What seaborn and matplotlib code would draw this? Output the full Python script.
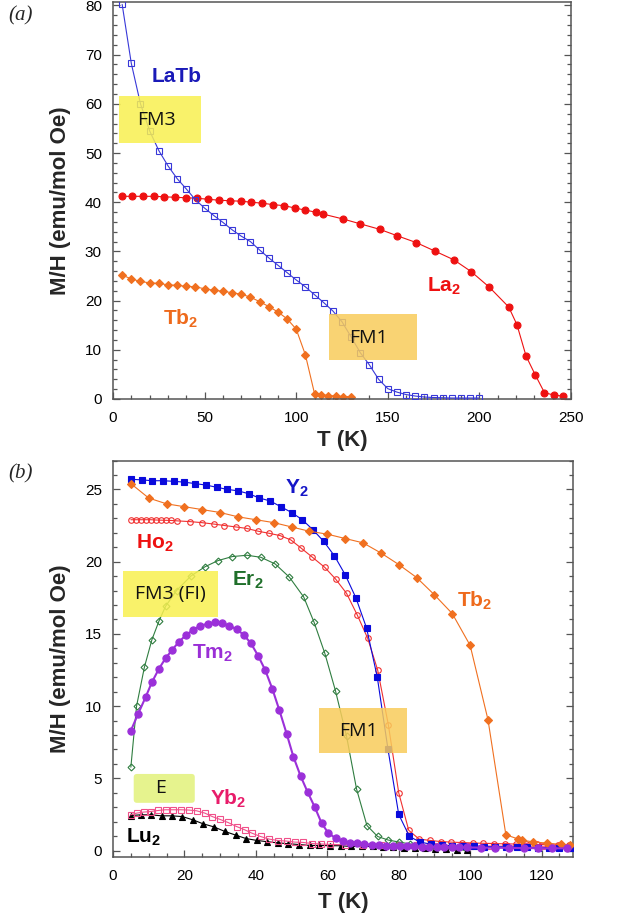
import numpy as np
import pandas as pd
import matplotlib
matplotlib.use("Agg")
import matplotlib.pyplot as plt
import seaborn as sns
from matplotlib.patches import Rectangle, FancyBboxPatch
from matplotlib.ticker import MultipleLocator

# ---------------- panel (a) data ----------------
LaTb_T = [5, 10, 15, 20, 25, 30, 35, 40, 45, 50, 55, 60, 65, 70, 75, 80, 85, 90, 95, 100,
          105, 110, 115, 120, 125, 130, 135, 140, 145, 150, 155, 160, 165, 170, 175, 180,
          185, 190, 195, 200]
LaTb_M = [80.2, 68.2, 60.0, 54.5, 50.5, 47.4, 44.8, 42.7, 40.5, 38.8, 37.3, 35.9, 34.4, 33.1,
          32.0, 30.3, 28.7, 27.2, 25.7, 24.2, 22.8, 21.2, 19.6, 17.9, 15.7, 12.6, 9.4, 6.9,
          4.0, 2.1, 1.4, 0.9, 0.6, 0.4, 0.3, 0.25, 0.2, 0.2, 0.2, 0.2]

La2_T = [5, 10.5, 16.5, 22.5, 28, 34, 40, 46, 52, 58, 64, 70, 75.5, 81.5, 87.5, 93.5, 99.5,
         105, 111, 114.5, 125.5, 135, 145.5, 155, 165.5, 175.5, 186, 195.5, 205.5, 216,
         220.5, 225.5, 230.5, 235.5, 240.5, 245.5]
La2_M = [41.2, 41.2, 41.2, 41.2, 41.1, 41.0, 40.9, 40.8, 40.6, 40.4, 40.3, 40.2, 40.0, 39.8,
         39.5, 39.3, 38.8, 38.4, 37.95, 37.6, 36.6, 35.6, 34.5, 33.2, 31.8, 30.1, 28.3, 25.9,
         22.7, 18.7, 15.1, 8.7, 4.9, 1.3, 0.8, 0.6]

Tb2a_T = [5, 10, 15, 20, 25, 30, 35, 40, 45, 50, 55, 60, 65, 70, 75, 80, 85, 90, 95, 100,
          105, 110, 113.5, 117.5, 121.5, 125.5, 130]
Tb2a_M = [25.2, 24.4, 23.9, 23.6, 23.5, 23.2, 23.1, 22.9, 22.8, 22.4, 22.1, 21.9, 21.6, 21.3,
          20.7, 19.8, 18.8, 17.7, 16.3, 14.2, 9.0, 1.1, 0.9, 0.7, 0.6, 0.5, 0.5]

# ---------------- panel (b) data ----------------
Y2_T = [5, 8, 11, 14, 17, 20, 23, 26, 29, 32, 35, 38, 41, 44, 47, 50, 53, 56, 59, 62, 65,
        68, 71, 74, 77, 80, 83, 86, 89, 92, 95, 98, 101, 104, 107, 110, 113, 116, 119, 122,
        125, 128]
Y2_M = [25.7, 25.66, 25.6, 25.6, 25.56, 25.5, 25.4, 25.3, 25.15, 25.0, 24.9, 24.7, 24.4,
        24.2, 23.8, 23.4, 22.9, 22.2, 21.4, 20.4, 19.1, 17.5, 15.4, 12.0, 7.0, 2.5, 0.97,
        0.58, 0.44, 0.37, 0.33, 0.3, 0.28, 0.27, 0.26, 0.25, 0.24, 0.22, 0.2, 0.2, 0.18, 0.15]

Tb2b_T = [5, 10, 15, 20, 25, 30, 35, 40, 45, 50, 55, 60, 65, 70, 75, 80, 85, 90, 95, 100,
          105, 110, 113.5, 114.5, 117.5, 121.5, 125.5, 128]
Tb2b_M = [25.4, 24.4, 24.0, 23.8, 23.6, 23.4, 23.1, 22.9, 22.7, 22.4, 22.1, 21.9, 21.6, 21.3,
          20.6, 19.8, 18.9, 17.7, 16.4, 14.2, 9.05, 1.09, 0.79, 0.72, 0.6, 0.51, 0.42, 0.37]

Ho2_T = [5, 6.4, 7.8, 9.2, 10.6, 12, 13.4, 14.8, 16.2, 18, 21.5, 24.8, 28.2, 31.2, 34.4,
         37.4, 40.7, 43.7, 46.8, 49.8, 52.5, 55.6, 59.3, 62.3, 65.4, 68.4, 71.3, 74.1, 77.1,
         80, 82.8, 85.7, 88.7, 91.7, 94.7, 97.7, 100.7, 103.7, 106.7, 109.7, 112.7, 115.7,
         118.7, 121.7, 124.7, 127.7]
Ho2_M = [22.9, 22.9, 22.9, 22.9, 22.9, 22.88, 22.87, 22.86, 22.85, 22.82, 22.77, 22.7, 22.6,
         22.5, 22.4, 22.3, 22.1, 21.96, 21.8, 21.5, 20.97, 20.35, 19.6, 18.8, 17.8, 16.3,
         14.7, 12.5, 8.7, 4.0, 1.4, 0.79, 0.7, 0.62, 0.58, 0.55, 0.52, 0.5, 0.48, 0.46, 0.45,
         0.43, 0.42, 0.4, 0.38, 0.36]

Er2_T = [5, 6.6, 8.8, 10.9, 12.9, 14.7, 17.8, 21.8, 25.8, 29.4, 33.4, 37.5, 41.4, 45.4, 49.4,
         53.4, 56.3, 59.3, 62.3, 65.4, 68.2, 71.1, 74.1, 77.1, 80.2, 83.2, 86.2, 89.2, 92.2,
         95.2, 98.2]
Er2_M = [5.77, 10.0, 12.7, 14.6, 15.9, 16.9, 18.0, 19.0, 19.65, 20.07, 20.35, 20.44, 20.3,
         19.84, 18.92, 17.55, 15.8, 13.66, 11.05, 7.9, 4.25, 1.73, 0.97, 0.72, 0.58, 0.45,
         0.38, 0.33, 0.3, 0.28, 0.25]

Tm2_T = [4.9, 7, 9.1, 10.9, 12.9, 14.7, 16.6, 18.5, 20.4, 22.4, 24.4, 26.5, 28.5, 30.4, 32.5,
         34.6, 36.6, 38.6, 40.6, 42.6, 44.6, 46.6, 48.6, 50.5, 52.5, 54.5, 56.5, 58.4, 60.3,
         62.3, 64.3, 66.3, 68.3, 70.3, 72.4, 74.4, 76.4, 78.4, 80.4, 82.4, 84.4, 86.4, 88.5,
         90.6, 92.7, 94.8, 97, 99, 103, 107, 111, 115, 119, 123, 127]
Tm2_M = [8.24, 9.44, 10.6, 11.65, 12.6, 13.3, 13.9, 14.46, 14.9, 15.27, 15.55, 15.7, 15.8,
         15.74, 15.57, 15.32, 14.93, 14.35, 13.5, 12.5, 11.2, 9.7, 8.1, 6.5, 5.17, 4.04, 3.0,
         1.9, 1.2, 0.86, 0.67, 0.55, 0.51, 0.46, 0.39, 0.36, 0.34, 0.33, 0.31, 0.29, 0.28,
         0.27, 0.26, 0.25, 0.24, 0.23, 0.22, 0.21, 0.2, 0.19, 0.18, 0.17, 0.16, 0.15, 0.15]

Yb2_T = [4.9, 6.7, 8.6, 10.6, 12.6, 14.7, 16.8, 19.0, 21.2, 23.4, 25.7, 27.8, 29.9, 32.2,
         34.6, 36.9, 38.9, 41.3, 43.7, 46.2, 48.7, 50.9, 53.2, 55.7, 58.2, 60.7, 65, 70, 75,
         80, 85, 90, 95, 100, 105, 110, 115, 120, 125]
Yb2_M = [2.47, 2.59, 2.66, 2.7, 2.77, 2.82, 2.82, 2.82, 2.8, 2.75, 2.59, 2.35, 2.16, 1.94,
         1.66, 1.43, 1.2, 0.97, 0.79, 0.69, 0.65, 0.58, 0.56, 0.48, 0.45, 0.42, 0.4, 0.38,
         0.37, 0.36, 0.35, 0.34, 0.33, 0.32, 0.31, 0.3, 0.3, 0.29, 0.28]

Lu2_T = [4.9, 7.8, 10.6, 13.6, 16.5, 19.4, 22.4, 25.2, 28.2, 31.3, 34.3, 37.2, 40.2, 43.1,
         46.1, 49.1, 52.2, 55.1, 57.8, 60.7, 63.7, 66.6, 69.6, 72.7, 75.5, 78.5, 81.4, 84.5,
         87.3, 90.3, 93.2, 96.2, 99]
Lu2_M = [2.42, 2.47, 2.47, 2.4, 2.4, 2.35, 2.12, 1.85, 1.64, 1.32, 1.07, 0.83, 0.7, 0.61,
         0.53, 0.47, 0.41, 0.35, 0.35, 0.33, 0.33, 0.28, 0.28, 0.28, 0.26, 0.21, 0.17, 0.17,
         0.14, 0.12, 0.12, 0.05, 0.05]

x_label = "T (K)"
y_label = "M/H (emu/mol Oe)"

# ---------------- style ----------------
sns.set_style("ticks")
plt.rcParams["font.family"] = ["Liberation Sans", "DejaVu Sans"]
plt.rcParams["mathtext.fontset"] = "custom"
plt.rcParams["mathtext.rm"] = "Liberation Sans:bold"
plt.rcParams["mathtext.it"] = "Liberation Sans:bold"
plt.rcParams["mathtext.bf"] = "Liberation Sans:bold"

fig = plt.figure(figsize=(6.4, 9.17), dpi=100)
W, H = 640.0, 917.0
ax1 = fig.add_axes([113 / W, 1 - 399 / H, (571 - 113) / W, (399 - 1.5) / H])
ax2 = fig.add_axes([113 / W, 1 - 857 / H, (573 - 113) / W, (857 - 460.5) / H])


def series(ax, T, M, color, marker, ms, filled=True, lw=0.8, mew=0.8, z=2):
    df = pd.DataFrame({"T": T, "M": M})
    sns.lineplot(data=df, x="T", y="M", ax=ax, color=color, marker=marker,
                 markersize=ms, markerfacecolor=color if filled else "none",
                 markeredgecolor=color, markeredgewidth=mew, linewidth=lw,
                 estimator=None, sort=False, zorder=z, clip_on=True)


def box(ax, x0, y0, x1, y1, color, text, tx, ty, rounded=False):
    if rounded:
        p = FancyBboxPatch((x0, y0), x1 - x0, y1 - y0,
                           boxstyle="round,pad=0,rounding_size=0.9",
                           mutation_aspect=0.25, facecolor=color, edgecolor="none",
                           alpha=0.85, zorder=5)
    else:
        p = Rectangle((x0, y0), x1 - x0, y1 - y0, facecolor=color, edgecolor="none",
                      alpha=0.85, zorder=5)
    ax.add_patch(p)
    ax.text(tx, ty, text, ha="center", va="center", fontsize=14, color="#111111",
            family=["Open Sans", "DejaVu Sans"], zorder=6)


def label(ax, x, y, main, color):
    ax.text(x, y, main + "$_{2}$", ha="left", va="baseline", fontsize=15,
            fontweight="bold", color=color, zorder=6)


def style_axes(ax, xmaj, xmin, ymaj, ymin, xpad):
    ax.xaxis.set_major_locator(MultipleLocator(xmaj))
    ax.xaxis.set_minor_locator(MultipleLocator(xmin))
    ax.yaxis.set_major_locator(MultipleLocator(ymaj))
    ax.yaxis.set_minor_locator(MultipleLocator(ymin))
    ax.tick_params(which="both", direction="in", top=False, right=True,
                   colors="#555555", labelcolor="black", width=0.9)
    ax.tick_params(which="major", length=5, labelsize=11)
    ax.tick_params(axis="x", which="major", pad=9)
    ax.tick_params(axis="y", which="major", pad=8)
    ax.tick_params(which="minor", length=3)
    for s in ax.spines.values():
        s.set_color("#555555")
        s.set_linewidth(1.1)
    ax.set_xlabel(x_label, fontsize=16, fontweight="bold", labelpad=xpad)
    ax.set_ylabel(y_label, fontsize=16, fontweight="bold", labelpad=10)


# ---------------- panel (a) ----------------
series(ax1, LaTb_T, LaTb_M, "#3838D8", "s", 4.3, filled=False, lw=0.8, mew=0.8, z=3)
series(ax1, La2_T, La2_M, "#EE1111", "o", 5.0, filled=True, lw=0.8, z=2)
series(ax1, Tb2a_T, Tb2a_M, "#F07020", "D", 4.3, filled=True, lw=0.8, z=2)
ax1.set_xlim(0, 250)
ax1.set_ylim(0, 80.8)
style_axes(ax1, 50, 10, 10, 2, 3)

ax1.text(21.1, 64.5, "LaTb", ha="left", va="baseline", fontsize=15, fontweight="bold",
         color="#1A1AB8", zorder=6)
label(ax1, 27.3, 15.2, "Tb", "#EE6A1C")
label(ax1, 171.3, 21.9, "La", "#EE1111")
box(ax1, 3.1, 52.1, 48, 61.6, "#F8F050", "FM3", 23.7, 56.7)
box(ax1, 118, 8.0, 166, 17.2, "#F8CC5A", "FM1", 139.3, 12.4)

# ---------------- panel (b) ----------------
series(ax2, Lu2_T, Lu2_M, "#000000", "^", 4.8, filled=True, lw=0.8, z=2)
series(ax2, Yb2_T, Yb2_M, "#F0508A", "s", 4.0, filled=False, lw=0.8, z=2)
series(ax2, Ho2_T, Ho2_M, "#F03030", "o", 4.0, filled=False, lw=0.8, z=2)
series(ax2, Er2_T, Er2_M, "#2F7D40", "D", 3.5, filled=False, lw=0.8, z=2)
series(ax2, Y2_T, Y2_M, "#0A0ADC", "s", 4.6, filled=True, lw=0.8, z=3)
series(ax2, Tb2b_T, Tb2b_M, "#F07020", "D", 4.3, filled=True, lw=0.8, z=3)
series(ax2, Tm2_T, Tm2_M, "#9B30D9", "o", 5.2, filled=True, lw=1.5, z=4)
ax2.set_xlim(0, 128.8)
ax2.set_ylim(-0.45, 27)
style_axes(ax2, 20, 5, 5, 1, 6)

label(ax2, 48.1, 24.7, "Y", "#1515C8")
label(ax2, 6.55, 20.9, "Ho", "#EE1111")
label(ax2, 33.2, 18.3, "Er", "#1F6F2A")
label(ax2, 22.0, 13.25, "Tm", "#9A2FD6")
label(ax2, 96.2, 16.9, "Tb", "#EE6A1C")
label(ax2, 27.1, 3.16, "Yb", "#E81C6A")
label(ax2, 3.6, 0.51, "Lu", "#000000")

box(ax2, 2.8, 16.2, 29.4, 19.36, "#F8F050", "FM3 (FI)", 16.1, 17.75)
box(ax2, 5.8, 3.3, 22.9, 5.3, "#E2F27A", "E", 13.4, 4.3, rounded=True)
box(ax2, 57.6, 6.74, 82.4, 9.9, "#F8CC5A", "FM1", 68.6, 8.24)

fig.text(8 / W, 1 - 16 / H, "(a)", fontsize=15, family="Liberation Serif",
         style="italic", va="center")
fig.text(8 / W, 1 - 474 / H, "(b)", fontsize=15, family="Liberation Serif",
         style="italic", va="center")

fig.savefig("out.png", dpi=100)
